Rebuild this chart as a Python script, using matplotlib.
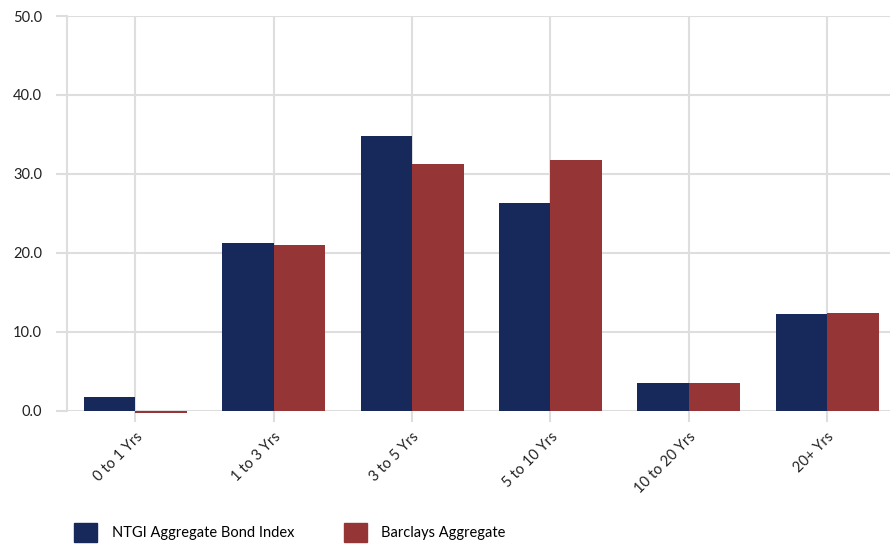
import matplotlib.pyplot as plt
import matplotlib.patches as mpatches
import numpy as np

plt.rcParams['font.family'] = ['Lato', 'DejaVu Sans']

categories = ['0 to 1 Yrs', '1 to 3 Yrs', '3 to 5 Yrs', '5 to 10 Yrs', '10 to 20 Yrs', '20+ Yrs']
ntgi = [1.7, 21.2, 34.8, 26.3, 3.5, 12.2]
barclays = [-0.3, 21.0, 31.3, 31.8, 3.5, 12.4]
series_names = ['NTGI Aggregate Bond Index', 'Barclays Aggregate']
colors = ['#17295a', '#953535']
grid_col = '#dedede'

fig = plt.figure(figsize=(8.9, 5.45), dpi=100)
ax = fig.add_axes([67 / 890, 1 - 410.7 / 545, 823 / 890, 394.7 / 545])

x = np.arange(len(categories))
w = 0.372
ax.bar(x - w / 2, ntgi, w, color=colors[0], clip_on=False, zorder=3)
ax.bar(x + w / 2, barclays, w, color=colors[1], clip_on=False, zorder=3)

ax.set_xlim(-0.495, 5.455)
ax.set_ylim(0, 50)
ax.set_yticks(np.arange(0, 51, 10))
ax.set_yticklabels([f'{v:.1f}' for v in np.arange(0, 51, 10)], fontsize=10.5)
ax.set_xticks(x)
ax.set_xticklabels(categories, rotation=45, ha='right', rotation_mode='anchor', fontsize=10.5)

for s in ['top', 'right', 'bottom']:
    ax.spines[s].set_visible(False)
ax.spines['left'].set_color(grid_col)
ax.spines['left'].set_linewidth(1.5)
ax.grid(True, color=grid_col, linewidth=1.5, zorder=0)
ax.set_axisbelow(True)
ax.tick_params(axis='both', color=grid_col, width=1.5, length=8, labelcolor='#222222')
ax.tick_params(axis='y', pad=10)
ax.tick_params(axis='x', pad=6)

handles = [mpatches.Patch(color=c, label=n) for c, n in zip(colors, series_names)]
fig.legend(handles=handles, loc='lower left', bbox_to_anchor=(0.068, -0.018), ncol=2,
           frameon=False, fontsize=10.5, handlelength=1.6, handleheight=1.6,
           handletextpad=1.0, columnspacing=3.4)

fig.savefig('out.png', dpi=100)
